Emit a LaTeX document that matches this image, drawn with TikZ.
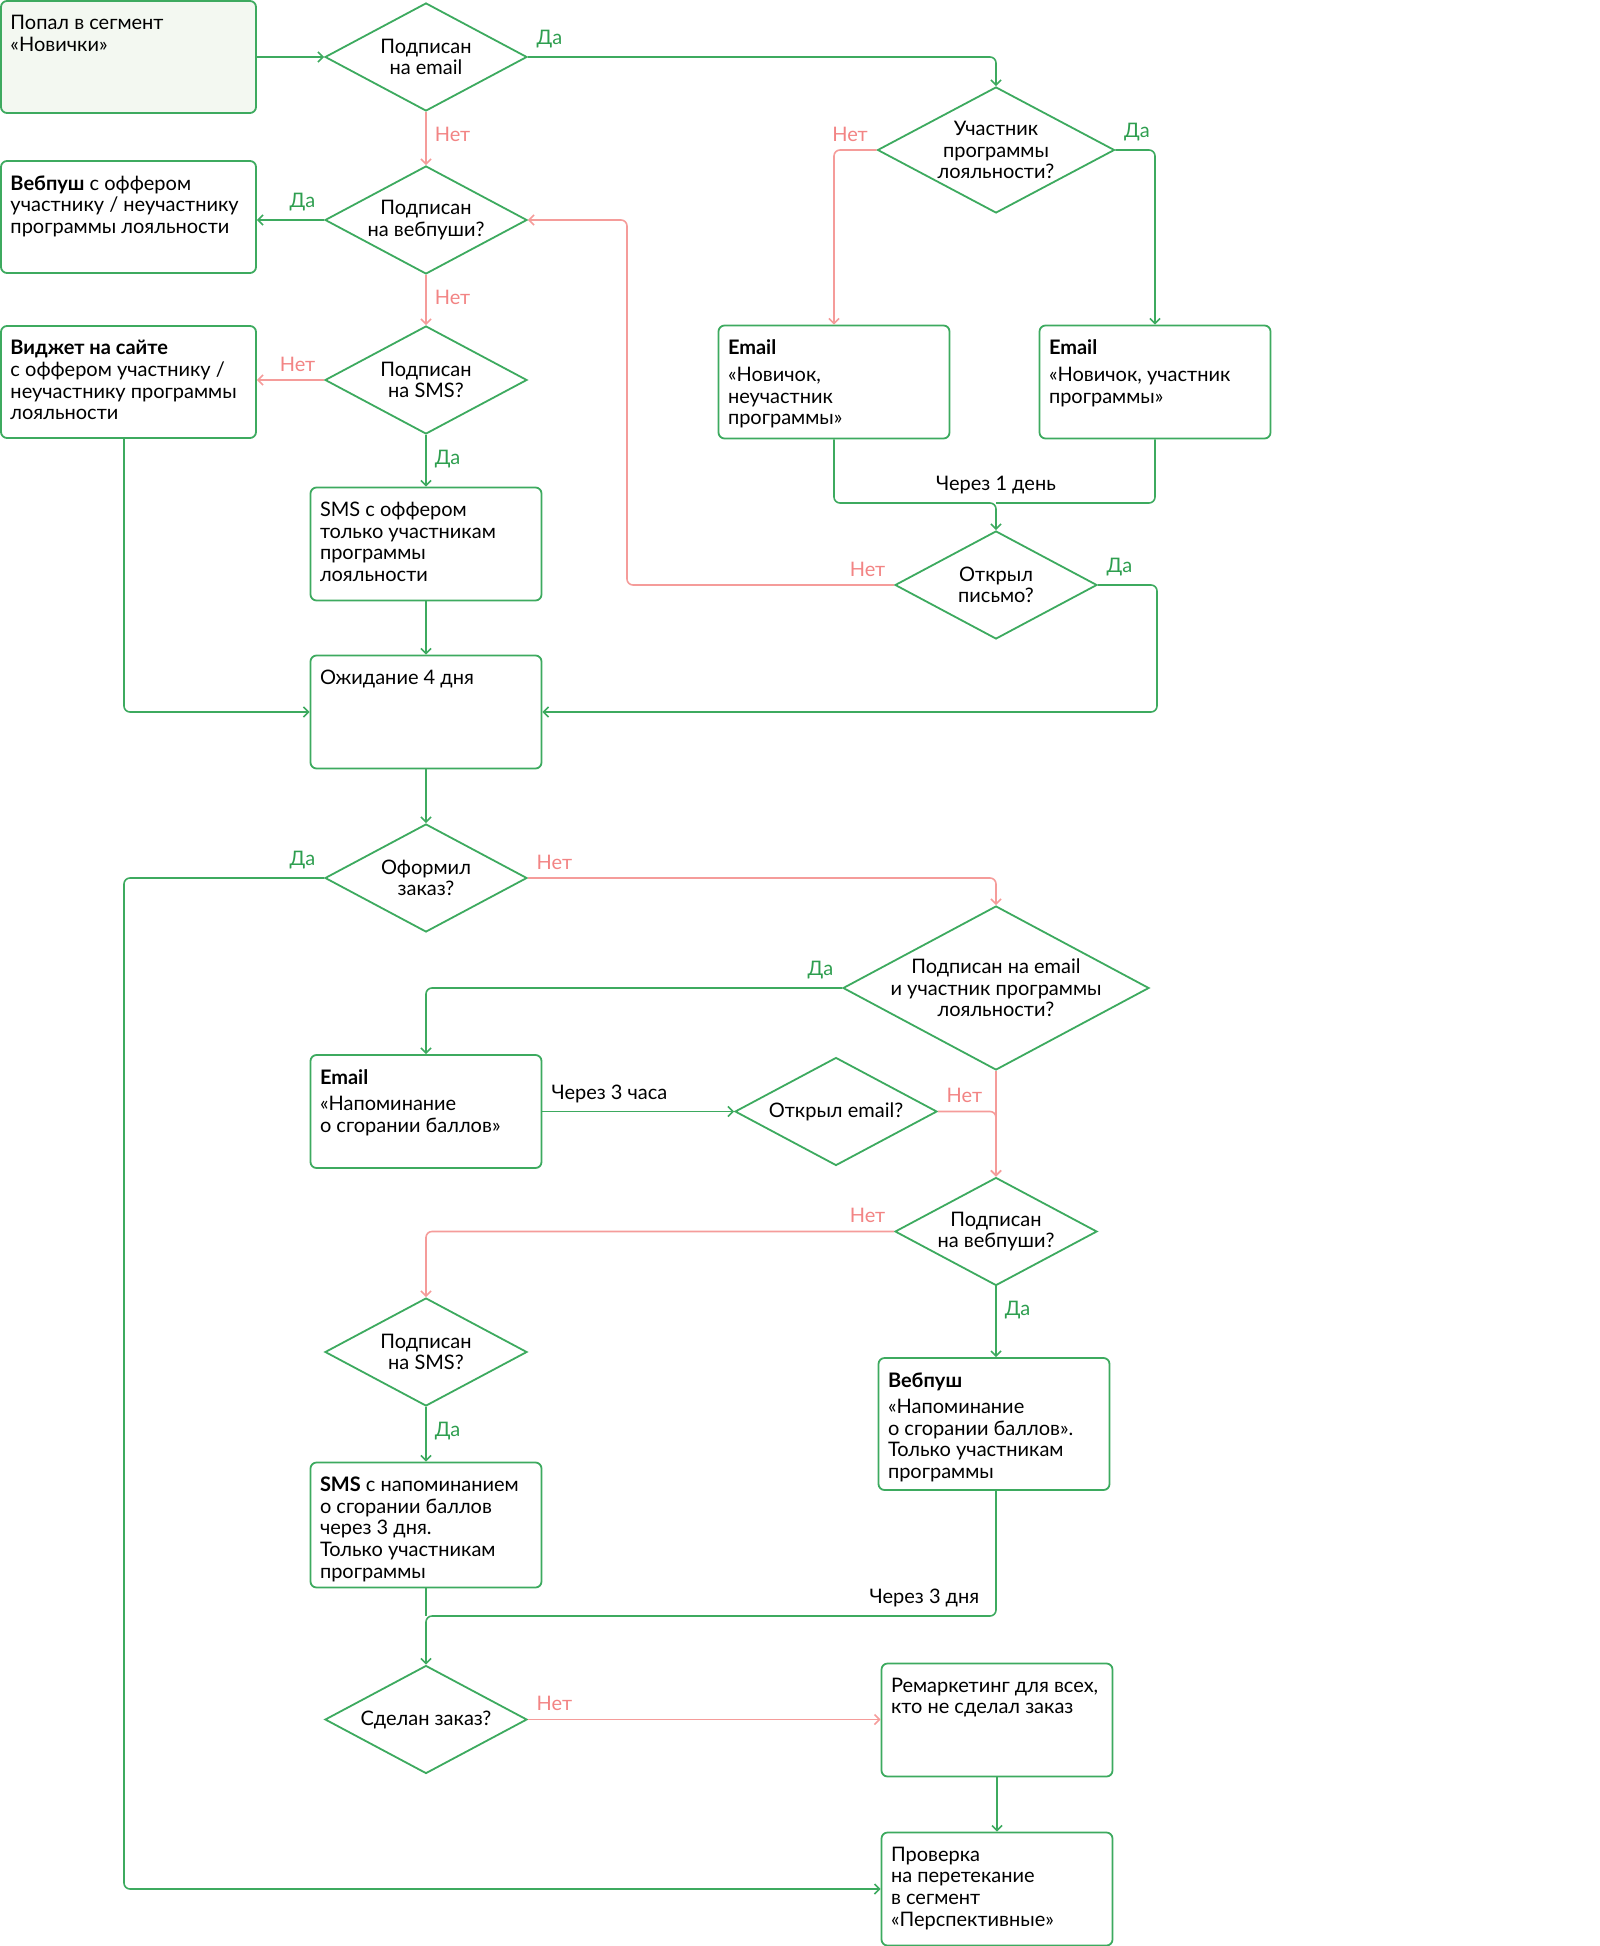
\documentclass[tikz,border=0pt]{standalone}
\usepackage{fontspec}
\setmainfont{Lato}
\usepackage{tikz}
\usetikzlibrary{shapes.geometric, arrows.meta, positioning, calc}
\definecolor{FlowGreen}{HTML}{3DAA5F}
\definecolor{LabelGreen}{HTML}{2E9E4F}
\definecolor{FlowRed}{HTML}{F59C9A}
\definecolor{LabelRed}{HTML}{F28484}
\definecolor{StartFill}{HTML}{F3F8F1}
\newcommand{\flowfont}{\fontsize{10}{10.8}\selectfont}
\tikzset{
  % Box styles
  stepbox/.style={rectangle, rounded corners=3pt, draw=FlowGreen, line width=0.9pt, fill=white, minimum width=115.5pt, minimum height=56.5pt, inner sep=0pt},
  sidebox/.style={stepbox, minimum width=127.5pt, minimum height=56pt},
  startbox/.style={sidebox, fill=StartFill},
  boxtext/.style={anchor=north west, inner sep=0pt, xshift=5pt, yshift=-7.5pt, align=left, font=\flowfont},
  decision/.style={diamond, draw=FlowGreen, line width=0.9pt, fill=white, minimum width=101pt, minimum height=54pt, inner sep=0pt},
  decisiontext/.style={anchor=center, inner sep=0pt, align=center, font=\flowfont},
  % Arrow styles
  flowline/.style={FlowGreen, line width=0.8pt, rounded corners=3pt},
  arrow/.style={flowline, -{Straight Barb[length=2.5pt,width=5pt]}},
  redline/.style={flowline, FlowRed},
  redarrow/.style={arrow, FlowRed},
  % Label styles
  yeslabel/.style={text=LabelGreen, font=\flowfont, inner sep=4pt},
  nolabel/.style={text=LabelRed, font=\flowfont, inner sep=4pt},
  waitlabel/.style={text=black, font=\flowfont, inner sep=4pt},
  downlabel/.style={below right, yshift=-3pt}
}

\begin{document}
\begin{tikzpicture}[x=0.5pt, y=-0.5pt]
  \useasboundingbox (0,0) rectangle (1599,1946);

  % Entry and first checks
  \node[startbox, label={[boxtext]north west:{Попал в сегмент\\«Новички»}}] (start) at (128.5,57) {};
  \node[decision, label={[decisiontext]center:{Подписан\\на email}}] (subemail) at (426,57) {};
  \node[decision, label={[decisiontext]center:{Подписан\\на вебпуши?}}] (subpush) at (426,220) {};
  \node[decision, label={[decisiontext]center:{Подписан\\на SMS?}}] (subsms) at (426,380) {};
  \node[sidebox, label={[boxtext]north west:{\textbf{Вебпуш} с оффером\\участнику / неучастнику\\программы лояльности}}] (push) at (128.5,217) {};
  \node[sidebox, label={[boxtext]north west:{\textbf{Виджет на сайте}\\с оффером участнику /\\неучастнику программы\\лояльности}}] (widget) at (128.5,382) {};
  \node[stepbox, label={[boxtext]north west:{SMS с оффером\\только участникам\\программы\\лояльности}}] (smsoffer) at (426,544) {};
  \node[stepbox, label={[boxtext]north west:{Ожидание 4 дня}}] (wait) at (426,712) {};

  % Email branch
  \node[decision, minimum width=118.5pt, minimum height=63pt, label={[decisiontext]center:{Участник\\программы\\лояльности?}}] (member) at (996,150) {};
  \node[stepbox, label={[boxtext]north west:{\textbf{Email}\\[2.5pt]«Новичок,\\неучастник\\программы»}}] (emailno) at (834,382) {};
  \node[stepbox, label={[boxtext]north west:{\textbf{Email}\\[2.5pt]«Новичок, участник\\программы»}}] (emailyes) at (1155,382) {};
  \node[decision, label={[decisiontext]center:{Открыл\\письмо?}}] (opened) at (996,585) {};

  \coordinate (join1) at (996,503);
  \coordinate (loop) at (627,585);
  \coordinate (rtrunk) at (1157,712);
  \coordinate (ltrunk) at (124,878);

  % Order check and reminders
  \node[decision, label={[decisiontext]center:{Оформил\\заказ?}}] (order) at (426,878) {};
  \node[decision, minimum width=153pt, minimum height=82pt, label={[decisiontext]center:{Подписан на email\\и участник программы\\лояльности?}}] (emailmember) at (996,988) {};
  \node[stepbox, label={[boxtext]north west:{\textbf{Email}\\[2.5pt]«Напоминание\\о сгорании баллов»}}] (remind) at (426,1111.5) {};
  \node[decision, label={[decisiontext]center:{Открыл email?}}] (openedemail) at (836,1111.5) {};
  \node[decision, label={[decisiontext]center:{Подписан\\на вебпуши?}}] (subpush2) at (996,1231.5) {};
  \node[decision, label={[decisiontext]center:{Подписан\\на SMS?}}] (subsms2) at (426,1352) {};
  \node[stepbox, minimum height=62.5pt, label={[boxtext]north west:{\textbf{SMS} с напоминанием\\о сгорании баллов\\через 3 дня.\\Только участникам\\программы}}] (smsremind) at (426,1525) {};
  \node[stepbox, minimum height=66pt, label={[boxtext]north west:{\textbf{Вебпуш}\\[2.5pt]«Напоминание\\о сгорании баллов».\\Только участникам\\программы}}] (pushremind) at (994,1424) {};

  \coordinate (join2) at (426,1616);

  % Final
  \node[decision, label={[decisiontext]center:{Сделан заказ?}}] (ordered) at (426,1719.5) {};
  \node[stepbox, label={[boxtext]north west:{Ремаркетинг для всех,\\кто не сделал заказ}}] (remarketing) at (997,1720) {};
  \node[stepbox, label={[boxtext]north west:{Проверка\\на перетекание\\в сегмент\\«Перспективные»}}] (check) at (997,1889) {};

  % Connectors, top part
  \draw[arrow] (start.east) -- (subemail.west);
  \draw[arrow] (subemail.east) node[yeslabel, above right] {Да} -| (member.north);
  \draw[redarrow] (subemail.south) node[nolabel, downlabel] {Нет} -- (subpush.north);
  \draw[arrow] (subpush.west) node[yeslabel, above left] {Да} -- (subpush.west -| push.east);
  \draw[redarrow] (subpush.south) node[nolabel, downlabel] {Нет} -- (subsms.north);
  \draw[redarrow] (subsms.west) node[nolabel, above left] {Нет} -- (subsms.west -| widget.east);
  \draw[arrow] (subsms.south) node[yeslabel, downlabel] {Да} -- (smsoffer.north);
  \draw[arrow] (smsoffer) -- (wait);
  \draw[arrow] (widget.south -| ltrunk) |- (wait.west);

  \draw[redarrow] (member.west) node[nolabel, above left] {Нет} -| (emailno.north);
  \draw[arrow] (member.east) node[yeslabel, above right] {Да} -| (emailyes.north);
  \draw[flowline] (emailyes.south) |- (join1);
  \draw[arrow] (emailno.south) |- (join1) node[waitlabel, above] {Через 1 день} -- (opened.north);
  \draw[redarrow] (opened.west) node[nolabel, above left] {Нет} -- (loop) |- (subpush.east);
  \draw[arrow] (opened.east) node[yeslabel, above right] {Да} -| (rtrunk) -- (wait.east);

  % Connectors, bottom part
  \draw[arrow] (wait) -- (order);
  \draw[arrow] (order.west) node[yeslabel, above left] {Да} -- (ltrunk) |- (check.west);
  \draw[redarrow] (order.east) node[nolabel, above right] {Нет} -| (emailmember.north);
  \draw[arrow] (emailmember.west) node[yeslabel, above left] {Да} -| (remind.north);
  \draw[arrow] (remind.east) -- node[waitlabel, above, pos=0.35] {Через 3 часа} (openedemail.west);
  \draw[redarrow] (emailmember.south) -- (subpush2.north);
  \draw[redarrow] (openedemail.east) node[nolabel, above right] {Нет} -| (subpush2.north);
  \draw[redarrow] (subpush2.west) node[nolabel, above left] {Нет} -| (subsms2.north);
  \draw[arrow] (subpush2.south) node[yeslabel, downlabel] {Да} -- (subpush2.south |- pushremind.north);
  \draw[arrow] (subsms2.south) node[yeslabel, downlabel] {Да} -- (smsremind.north);
  \draw[flowline] (smsremind.south) -- (join2);
  \draw[arrow] (subpush2.south |- pushremind.south) |- node[waitlabel, above left, pos=0.5, xshift=-4pt] {Через 3 дня} (join2) -- (ordered.north);
  \draw[redarrow] (ordered.east) node[nolabel, above right] {Нет} -- (ordered.east -| remarketing.west);
  \draw[arrow] (remarketing) -- (check);
\end{tikzpicture}
\end{document}
